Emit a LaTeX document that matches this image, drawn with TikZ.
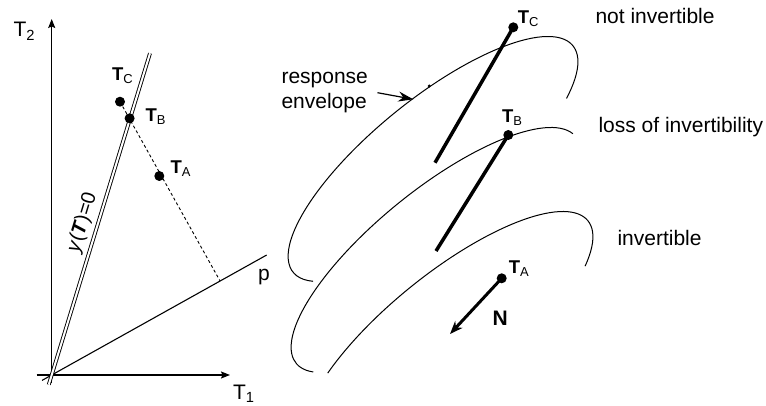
\documentclass[tikz,border=0pt]{standalone}
\usepackage{fontspec}
\setmainfont{Liberation Sans}
\usepackage{tikz}
\usetikzlibrary{arrows.meta, calc}

\newcommand{\tpt}[1]{\textbf{T}\textsubscript{#1}}

\begin{document}
\begin{tikzpicture}[x=1pt, y=1pt, line width=1.1pt,
  lbl/.style={font=\fontsize{18.5}{21}\selectfont, inner sep=0pt, anchor=base west},
  txt/.style={font=\fontsize{21}{25}\selectfont, inner sep=0pt, anchor=base west},
  dot/.style={circle, fill=black, inner sep=0pt, minimum size=10pt},
  axis/.style={-{Stealth[length=9pt, width=7pt, inset=1.5pt]}},
  path/.style={line width=3.5pt},
  envelope/.style={line width=1pt}]
\useasboundingbox (0,0) rectangle (766,405);

% left: the T1-T2 plane
\coordinate (O) at (51.7,30);
\coordinate (X) at (230,30);
\coordinate (Y) at (51.7,386);
\coordinate (P) at (266.7,150);
\coordinate (Y0) at (150,351.7);

\draw[axis] ($(O)+(-15,0)$) -- (X);
\draw[axis] ($(O)+(0,-8)$) -- (Y);
\draw ($(O)!-0.045!(P)$) -- (P);
\draw[double, double distance=2pt, line width=0.9pt] ($(O)!-0.03!(Y0)$) -- (Y0);

\node[dot] (TA) at (159.3,229) {};
\node[dot] (TB) at (129.6,286.7) {};
\node[dot] (TC) at (120,303.3) {};
\coordinate (F) at ($(O)!(TC)!(P)$);
\draw[dash pattern=on 3pt off 2.5pt, line width=0.9pt] (TC) -- (F);

\node[txt] (t2) at (13,368) {T\textsubscript{2}};
\node[txt] (t1) at (232.5,5.7) {T\textsubscript{1}};
\node[txt] (lp) at (257.5,124.3) {p};
\node[lbl] (lTC) at (111.5,324.3) {\tpt{C}};
\node[lbl] (lTB) at (145,283.3) {\tpt{B}};
\node[lbl] (lTA) at (170,231.7) {\tpt{A}};
\node[font=\fontsize{20}{23}\selectfont, rotate=73.1] (yT) at (82.5,182.5)
  {\textit{y}(\textbf{\textit{T}})=0};

% right: response envelopes
\foreach \cx/\cy/\ta/\tb in {433/246/-38/199, 436/155/4/197, 448/71/-34/131}
  \draw[envelope, shift={(\cx,\cy)}, rotate=39]
    (\ta:180pt and 60pt) arc[start angle=\ta, end angle=\tb, x radius=180pt, y radius=60pt];

\node[dot] (TC2) at (513.3,377.7) {};
\node[dot] (TB2) at (508.3,270) {};
\node[dot] (TA2) at (501.7,126.7) {};
\coordinate (c1) at (435,242.3);
\coordinate (c2) at (436,154);
\coordinate (Ntip) at (450,71);
\draw[path] (TC2.center) -- (c1);
\draw[path] (TB2.center) -- (c2);
\draw[line width=3pt, -{Stealth[length=13pt, width=10pt]}] (TA2.center) -- (Ntip);

\node[lbl] (lTC2) at (517.3,381.7) {\tpt{C}};
\node[lbl] (lTB2) at (501.5,282.7) {\tpt{B}};
\node[lbl] (lTA2) at (508.3,131.7) {\tpt{A}};
\node[txt] (N) at (492,80) {\bfseries N};

\node[txt, anchor=west, align=left] (resp) at (281,312.3) {response\\envelope};
\coordinate (rtip) at (413.3,305.7);
\draw[line width=1.2pt, -{Stealth[length=15pt, width=10pt]}] ([xshift=9pt]resp.east) -- (rtip);
\coordinate (edot) at (429.3,319);
\fill (edot) circle (1.6);

\node[txt] (notinv) at (595,381) {not invertible};
\node[txt] (loss) at (598,272) {loss of invertibility};
\node[txt] (inv) at (617,159.5) {invertible};
\end{tikzpicture}
\end{document}
